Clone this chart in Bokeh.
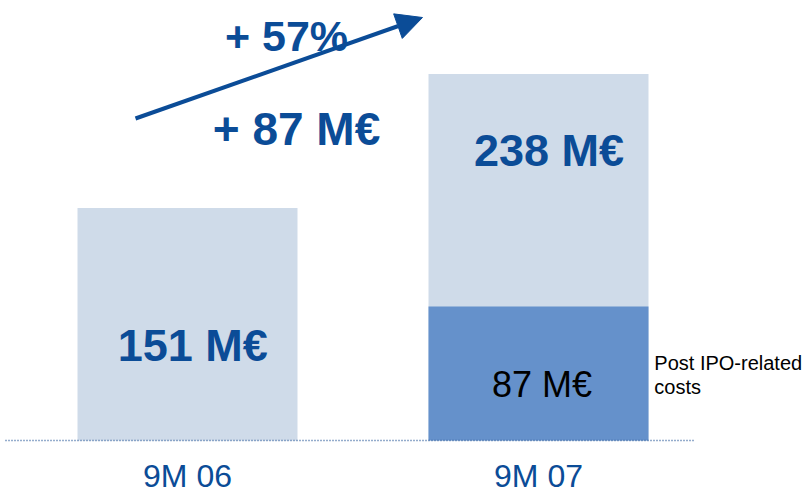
from bokeh.plotting import figure
from bokeh.models import Range1d, Arrow, NormalHead, ColumnDataSource
from bokeh.core.properties import value
from bokeh.embed import file_html
from bokeh.resources import INLINE

# Data
categories = ["9M 06", "9M 07"]
totals = [151, 238]
ipo_costs = [0, 87]
total_labels = ["151 M€", "238 M€"]
ipo_label = "87 M€"
growth_pct = "+ 57%"
growth_abs = "+ 87 M€"
note_lines = ["Post IPO-related", "costs"]

LIGHT = "#cfdbe9"
DARK = "#6591cb"
BLUE = "#0b4c97"

S = 1.54  # px per unit (layout helper)
X0, XS, Y0 = 187, 351, 440


def px(xp, yp):
    return (xp - X0) / XS, (Y0 - yp) / S


xs = list(range(len(categories)))

p = figure(width=810, height=492, output_backend="svg", toolbar_location=None,
           x_range=Range1d(-X0 / XS, (810 - X0) / XS),
           y_range=Range1d(-(492 - Y0) / S, Y0 / S),
           min_border=0, outline_line_color=None)
p.axis.visible = False
p.grid.visible = False
p.background_fill_color = "white"
p.border_fill_color = "white"

bw = 220 / XS
p.vbar(x=xs, top=totals, width=bw, fill_color=LIGHT, line_color=None)
p.vbar(x=[xs[1]], top=[ipo_costs[1]], width=bw, fill_color=DARK, line_color=None)

# dotted baseline
p.line(x=[px(5, 0)[0], px(695, 0)[0]], y=[0, 0], line_color="#2a5a9a",
       line_width=1.5, line_dash="1 2")

font = value("Liberation Sans")
# bar labels
src = ColumnDataSource(dict(x=[xs[0] + 0.015, xs[1] + 0.03],
                            y=[totals[0] * 0.41, ipo_costs[1] + (totals[1] - ipo_costs[1]) * 0.67],
                            t=total_labels))
p.text(x="x", y="y", text="t", source=src, text_font=font, text_font_size="45px",
       text_font_style="bold", text_color=BLUE, text_align="center", text_baseline="middle")
p.text(x=[xs[1] + 0.01], y=[ipo_costs[1] * 0.42], text=[ipo_label], text_font=font,
       text_font_size="36px", text_color="black", text_align="center", text_baseline="middle")

# category labels
p.text(x=xs, y=[px(0, 475)[1]] * 2, text=categories, text_font=font,
       text_font_size="32px", text_color=BLUE, text_align="center", text_baseline="middle")

# note
p.text(x=[xs[1] + 0.33] * 2, y=[ipo_costs[1] * 0.58, ipo_costs[1] * 0.40], text=note_lines,
       text_font=font, text_font_size="20px", text_color="black",
       text_align="left", text_baseline="middle")

# growth arrow and labels
xs0, ys0 = px(135, 118)
xe0, ye0 = px(422, 17)
p.add_layout(Arrow(end=NormalHead(size=26, fill_color=BLUE, line_color=BLUE),
                   x_start=xs0, y_start=ys0, x_end=xe0, y_end=ye0,
                   line_color=BLUE, line_width=4))
gx, gy = px(286, 35)
p.text(x=[gx], y=[gy], text=[growth_pct], text_font=font,
       text_font_size="43px", text_font_style="bold", text_color=BLUE,
       text_align="center", text_baseline="middle")
ax_, ay_ = px(296, 128)
p.text(x=[ax_], y=[ay_], text=[growth_abs], text_font=font,
       text_font_size="46px", text_font_style="bold", text_color=BLUE,
       text_align="center", text_baseline="middle")

open("out.html", "w").write(file_html(p, INLINE))
